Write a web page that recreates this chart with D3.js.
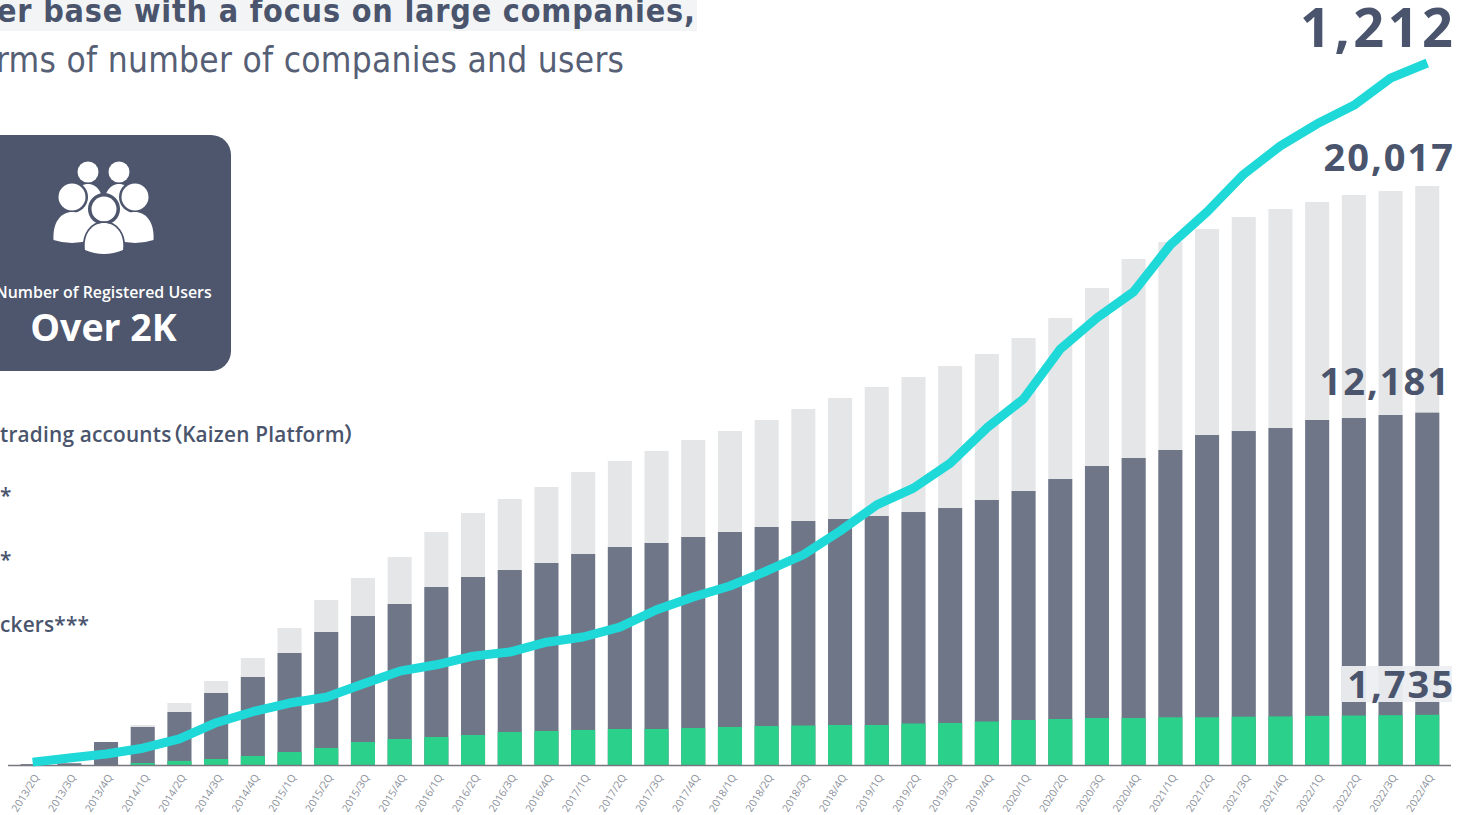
<!DOCTYPE html>
<html>
<head>
<meta charset="utf-8">
<script src="https://cdnjs.cloudflare.com/ajax/libs/d3/7.8.5/d3.min.js"></script>
<style>
html,body{margin:0;padding:0;background:#fff;overflow:hidden}
svg{display:block}
text{font-family:"Open Sans",sans-serif}
</style>
</head>
<body>
<svg id="chart" width="1478" height="815"></svg>
<script>
// Quarterly growth in users and companies, 2013/2Q to 2022/4Q
const quarters = ["2013/2Q","2013/3Q","2013/4Q","2014/1Q","2014/2Q","2014/3Q","2014/4Q","2015/1Q","2015/2Q","2015/3Q","2015/4Q","2016/1Q","2016/2Q","2016/3Q","2016/4Q","2017/1Q","2017/2Q","2017/3Q","2017/4Q","2018/1Q","2018/2Q","2018/3Q","2018/4Q","2019/1Q","2019/2Q","2019/3Q","2019/4Q","2020/1Q","2020/2Q","2020/3Q","2020/4Q","2021/1Q","2021/2Q","2021/3Q","2021/4Q","2022/1Q","2022/2Q","2022/3Q","2022/4Q"];
const lockers = [0,0,0,70,140,207,311,449,588,795,899,968,1037,1141,1175,1210,1245,1245,1279,1314,1348,1366,1383,1383,1435,1452,1504,1556,1590,1625,1625,1650,1650,1670,1680,1700,1710,1722,1735];
const accounts = [30,60,795,1314,1832,2489,3042,3872,4598,5151,5566,6153,6499,6741,6983,7294,7536,7675,7882,8055,8228,8435,8504,8608,8746,8884,9161,9472,9887,10336,10613,10890,11408,11546,11650,11927,11996,12100,12181];
const totals = [30,60,795,1383,2143,2904,3699,4736,5704,6465,7191,8055,8712,9196,9610,10129,10509,10855,11235,11546,11927,12307,12687,13067,13413,13793,14208,14761,15453,16490,17492,18080,18529,18944,19221,19463,19705,19843,20017];
const companies = [5,12,19,29,45,73,92,107,117,140,162,173,188,195,212,221,238,268,290,309,335,363,404,449,478,521,582,632,718,772,817,898,955,1020,1069,1107,1139,1186,1212];
const headline = "er base with a focus on large companies,";
const subhead = "rms of number of companies and users";
const legendLabels = ["trading accounts（Kaizen Platform）","*","*","ckers***"];
const cardCaption = "Number of Registered Users";
const cardValue = "Over 2K";

const ink = "#4a556d";
const cardFill = "#4d566d";
const svg = d3.select("#chart");

const x = d3.scaleBand().domain(quarters).range([14.3, 1445.6]).paddingInner(0.345).paddingOuter(0.172);
const yUsers = d3.scaleLinear().domain([0, 20017]).range([765, 186]);
const yCompanies = d3.scaleLinear().domain([0, 1212]).range([765, 63]);

// Headline block
svg.append("rect").attr("x", 0).attr("y", 0).attr("width", 697).attr("height", 31).attr("fill", "#f3f4f6");
svg.append("text").attr("x", -3).attr("y", 22).attr("font-size", 32).attr("font-weight", 700)
  .attr("fill", ink).style("font-family", "'DejaVu Sans'").style("font-stretch", "condensed")
  .attr("textLength", 698).text(headline);
svg.append("text").attr("x", -4).attr("y", 72).attr("font-size", 35).attr("font-weight", 400)
  .attr("fill", "#565f75").style("font-family", "'DejaVu Sans'").style("font-stretch", "condensed")
  .attr("textLength", 628).text(subhead);

// Registered-user card with its group-of-people icon
const card = svg.append("g");
card.append("rect").attr("x", -30).attr("y", 135).attr("width", 261).attr("height", 236).attr("rx", 20).attr("fill", cardFill);
const body = (cx, top, w, bottom) => card.append("path")
  .attr("d", `M${cx - w},${bottom} C${cx - w - 1},${top + 9} ${cx - w * 0.55},${top} ${cx},${top} C${cx + w * 0.55},${top} ${cx + w + 1},${top + 9} ${cx + w},${bottom} Q${cx},${bottom + 6} ${cx - w},${bottom} Z`)
  .attr("fill", "#fff");
const head = (cx, cy, r, fill = "#fff") => card.append("circle").attr("cx", cx).attr("cy", cy).attr("r", r).attr("fill", fill);
// back row
body(88, 184, 17, 225); head(88, 172, 10.5);
body(119, 184, 17, 225); head(119, 172, 10.5);
head(72, 197, 16, cardFill); head(135, 197, 16, cardFill);
// middle row
body(72, 212, 18.5, 240); head(72, 197, 13.5);
body(135, 212, 18.5, 240); head(135, 197, 13.5);
// front figure, ringed in the card colour so it separates from the others
head(104, 209, 16, cardFill);
head(104, 209, 12.5);
card.append("path").attr("d", "M85,250 C83,234 92,223 104,223 C116,223 125,234 123,250 Q104,258 85,250 Z")
  .attr("fill", "#fff").attr("stroke", cardFill).attr("stroke-width", 3.5).attr("paint-order", "stroke");
card.append("text").attr("x", 103.5).attr("y", 298).attr("text-anchor", "middle").attr("font-size", 15.9).attr("font-weight", 600).attr("fill", "#fff").text(cardCaption);
card.append("text").attr("x", 103.5).attr("y", 341).attr("text-anchor", "middle").attr("font-size", 37.5).attr("font-weight", 700).attr("fill", "#fff").text(cardValue);

// Legend labels
const legendY = [442, 503, 567, 632];
svg.selectAll(".legend").data(legendLabels).join("text").attr("class", "legend")
  .attr("x", 0).attr("y", (d, i) => legendY[i]).attr("font-size", 20.8).attr("font-weight", 600)
  .attr("letter-spacing", 0.2).attr("fill", ink).style("font-family", "'Open Sans','Noto Sans CJK JP'")
  .style("font-feature-settings", "'palt'").text(d => d);

// Stacked bars, back to front
const layers = [[totals, "#e5e6e8"], [accounts, "#6f7687"], [lockers, "#2bd18a"]];
layers.forEach(([values, fill]) => {
  svg.append("g").selectAll("rect").data(quarters).join("rect")
    .attr("x", d => x(d)).attr("width", x.bandwidth())
    .attr("y", (d, i) => yUsers(values[i]))
    .attr("height", (d, i) => 765 - yUsers(values[i]))
    .attr("fill", fill);
});

// Category axis
const axis = svg.append("g").attr("transform", "translate(0,765)")
  .call(d3.axisBottom(x).tickSize(0).tickPadding(0));
axis.select(".domain").attr("stroke", "#77777f").attr("stroke-width", 1.5).attr("d", "M8,0.5H1451");
axis.selectAll("text").attr("font-size", 10.5).attr("fill", "#8a8f9a").attr("text-anchor", "end")
  .attr("dy", 0).attr("y", 0)
  .attr("transform", "translate(7,12) rotate(-58)").style("font-family", "'Open Sans'");

// Company count line
const line = d3.line().x((d, i) => x(quarters[i]) + x.bandwidth() / 2).y(d => yCompanies(d));
svg.append("path").datum(companies).attr("d", line).attr("fill", "none")
  .attr("stroke", "#1fd8d8").attr("stroke-width", 9).attr("stroke-linejoin", "round");

// End-of-series value labels
svg.append("rect").attr("x", 1342).attr("y", 666).attr("width", 110).attr("height", 36).attr("fill", "#eceef1").attr("opacity", 0.95);
const endValues = ["1,212", "20,017", "12,181", "1,735"];
const endBaselines = [46.5, 170.5, 395, 698];
const endRight = [1456.5, 1455, 1451, 1455];
const endSizes = [54, 38, 38, 38];
const endSpacing = [3.5, 2, 2, 2];
svg.selectAll(".endLabel").data(endValues).join("text").attr("class", "endLabel")
  .attr("x", (d, i) => endRight[i]).attr("y", (d, i) => endBaselines[i])
  .attr("font-size", (d, i) => endSizes[i]).attr("letter-spacing", (d, i) => endSpacing[i])
  .attr("font-weight", 700).attr("text-anchor", "end").attr("fill", ink).text(d => d);
</script>
</body>
</html>
